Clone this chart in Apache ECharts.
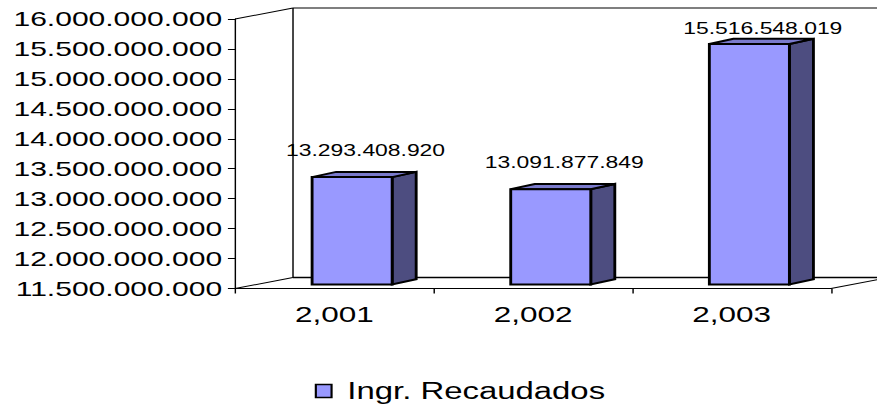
<!DOCTYPE html>
<html>
<head>
<meta charset="utf-8">
<script src="https://cdn.jsdelivr.net/npm/echarts@6/dist/echarts.min.js"></script>
<style>
  html, body { margin: 0; padding: 0; background: #fff; }
  #wrap { width: 877px; height: 413px; overflow: hidden; position: relative; }
  #chart { width: 613px; height: 413px; transform: scaleX(1.4307); transform-origin: 0 0; }
</style>
</head>
<body>
<div id="wrap"><div id="chart"></div></div>
<script>
// ---- data ----
var categories = ['2,001', '2,002', '2,003'];
var seriesName = 'Ingr. Recaudados';
var recaudados = [13293408920, 13091877849, 15516548019];
var yMin = 11500000000;
var yMax = 16000000000;
var yStep = 500000000;

// ---- helpers ----
function fmt(v) {
  return String(Math.round(v)).replace(/\B(?=(\d{3})+(?!\d))/g, '.');
}
var FONT = '"Liberation Sans", Arial, sans-serif';
var WALL_DX = 40.5, WALL_DY = -11;     // depth of the 3D box
var BAR_OX = 12.4, BAR_OY = -4;        // front face offset of bars inside the box
var BAR_DX = 16.8, BAR_DY = -5.2;      // bar depth
var BAR_RATIO = 0.403;

var chart = echarts.init(document.getElementById('chart'), null, { renderer: 'svg' });

function renderFrame(params, api) {
  var cs = params.coordSys;
  var x0 = cs.x, x1 = cs.x + cs.width, y0 = cs.y, y1 = cs.y + cs.height;
  var ln = function (a, b, c, d, w) {
    return { type: 'line', shape: { x1: a, y1: b, x2: c, y2: d },
      style: { stroke: '#000', lineWidth: w || 1 } };
  };
  return { type: 'group', children: [
    ln(x0 + WALL_DX, y0 + WALL_DY, x1 + WALL_DX, y0 + WALL_DY),
    ln(x0 + WALL_DX, y0 + WALL_DY, x0 + WALL_DX, y1 + WALL_DY),
    ln(x1 + WALL_DX, y0 + WALL_DY, x1 + WALL_DX, y1 + WALL_DY),
    ln(x0 + WALL_DX, y1 + WALL_DY, x1 + WALL_DX, y1 + WALL_DY, 1.6),
    ln(x0, y0, x0 + WALL_DX, y0 + WALL_DY),
    ln(x0, y1, x0 + WALL_DX, y1 + WALL_DY),
    ln(x1, y1, x1 + WALL_DX, y1 + WALL_DY)
  ]};
}

function renderBar(params, api) {
  var i = api.value(0), v = api.value(1);
  var top = api.coord([i, v]);
  var base = api.coord([i, yMin]);
  var w = api.size([1, 0])[0] * BAR_RATIO;
  var xl = top[0] + BAR_OX - w / 2, xr = xl + w;
  var yt = top[1] + BAR_OY, yb = base[1] + BAR_OY;
  var edge = { stroke: '#000', lineWidth: 2, lineJoin: 'miter' };
  var gridTop = params.coordSys.y;
  var ly = Math.max(yt - 27, gridTop + 9);
  return { type: 'group', children: [
    { type: 'polygon', shape: { points: [[xr, yt], [xr + BAR_DX, yt + BAR_DY], [xr + BAR_DX, yb + BAR_DY], [xr, yb]] },
      style: Object.assign({ fill: '#4d4d80' }, edge) },
    { type: 'polygon', shape: { points: [[xl, yt], [xl + BAR_DX, yt + BAR_DY], [xr + BAR_DX, yt + BAR_DY], [xr, yt]] },
      style: Object.assign({ fill: '#7a7acc' }, edge) },
    { type: 'rect', shape: { x: xl, y: yt, width: w, height: yb - yt },
      style: Object.assign({ fill: '#9999ff' }, edge) },
    { type: 'text', x: xl + w / 2 + BAR_DX / 2 + 1, y: ly,
      style: { text: fmt(v), align: 'center', verticalAlign: 'middle',
        fontSize: 16, fontFamily: FONT, fill: '#000' } }
  ]};
}

chart.setOption({
  animation: false,
  backgroundColor: '#fff',
  grid: { left: 164.3, right: 32.2, top: 19, bottom: 124.5, containLabel: false },
  legend: {
    data: [seriesName], icon: 'rect', left: 215, top: 373,
    itemWidth: 11, itemHeight: 13,
    itemStyle: { color: '#9999ff', borderColor: '#000', borderWidth: 1.5 },
    textStyle: { fontSize: 23, fontFamily: FONT, color: '#000', lineHeight: 26, padding: [0, 0, 0, 6] }
  },
  xAxis: {
    type: 'category', data: categories, boundaryGap: true,
    axisLine: { show: true, lineStyle: { color: '#000', width: 1 } },
    axisTick: { show: true, length: 5, lineStyle: { color: '#000' } },
    axisLabel: { fontSize: 22, fontFamily: FONT, color: '#000', margin: 15 },
    splitLine: { show: false }
  },
  yAxis: {
    type: 'value', min: yMin, max: yMax, interval: yStep,
    axisLine: { show: true, lineStyle: { color: '#000', width: 1 } },
    axisTick: { show: true, length: 5, lineStyle: { color: '#000' } },
    axisLabel: { fontSize: 21, fontFamily: FONT, color: '#000', margin: 9, formatter: fmt },
    splitLine: { show: false }
  },
  series: [
    { type: 'custom', name: '_frame', coordinateSystem: 'cartesian2d', z: 1, silent: true,
      renderItem: renderFrame, data: [[0, yMin]] },
    { type: 'custom', name: seriesName, coordinateSystem: 'cartesian2d', z: 3,
      itemStyle: { color: '#9999ff' },
      encode: { x: 0, y: 1 },
      renderItem: renderBar,
      data: recaudados.map(function (v, i) { return [i, v]; }) }
  ]
});
</script>
</body>
</html>
